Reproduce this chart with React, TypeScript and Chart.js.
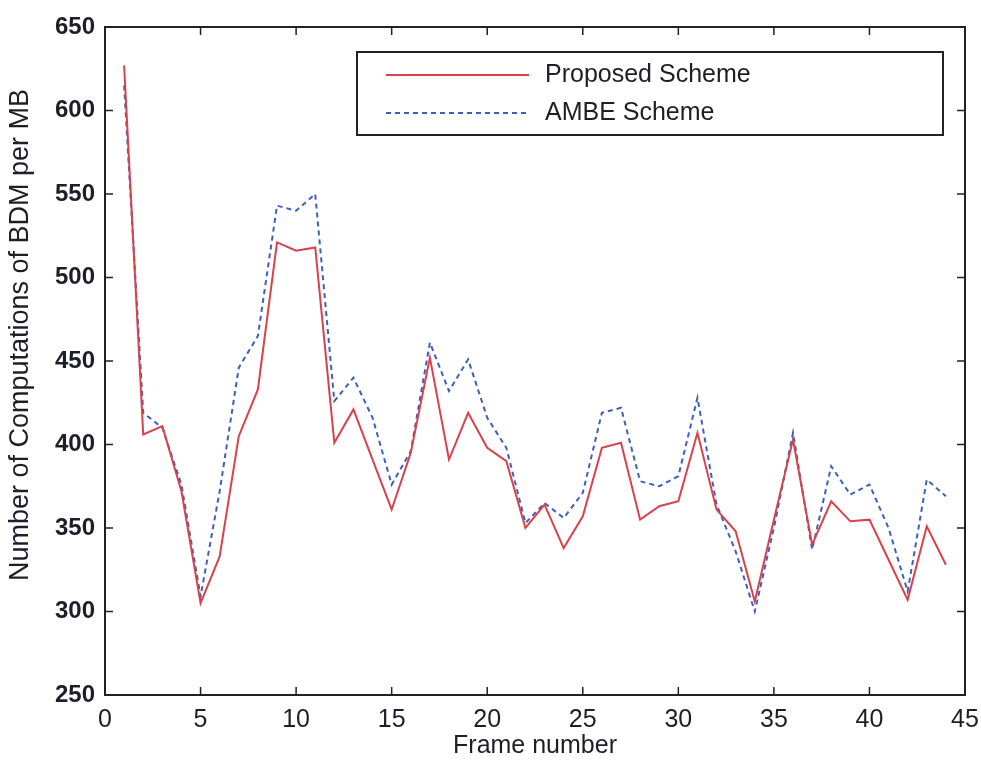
import React, { useEffect, useRef } from "react";
import { Chart, registerables } from "chart.js";

Chart.register(...registerables);

const frames = [1,2,3,4,5,6,7,8,9,10,11,12,13,14,15,16,17,18,19,20,21,22,23,24,25,26,27,28,29,30,31,32,33,34,35,36,37,38,39,40,41,42,43,44];
const proposed = [627,406,411,372,305,333,405,433,521,516,518,401,421,391,361,395,452,391,419,398,390,350,364,338,357,398,401,355,363,366,407,361,348,306,355,403,340,366,354,355,331,307,351,328];
const ambe = [615,419,410,376,309,372,446,465,543,540,550,426,440,416,376,396,461,432,451,416,398,353,365,356,371,419,422,378,375,381,428,364,336,300,350,407,337,387,370,376,350,312,379,369];
const xTicks = [0,5,10,15,20,25,30,35,40,45];
const yTicks = [250,300,350,400,450,500,550,600,650];
const legendLabels = ["Proposed Scheme", "AMBE Scheme"];
const xTitle = "Frame number";
const yTitle = "Number of Computations of BDM per MB";

const RED = "#d8424a";
const BLUE = "#3d5fc0";
const FONT = "'Liberation Sans', Arial, sans-serif";
const INK = "#1e1e28";

const framePlugin = {
  id: "matlabFrame",
  afterDraw(chart: any) {
    const { ctx, chartArea: a, scales } = chart;
    ctx.save();
    ctx.strokeStyle = "#222";
    ctx.lineWidth = 2;
    ctx.strokeRect(a.left, a.top, a.right - a.left, a.bottom - a.top);
    ctx.lineWidth = 1.5;
    const tl = 8;
    for (const v of xTicks) {
      const x = scales.x.getPixelForValue(v);
      ctx.beginPath();
      ctx.moveTo(x, a.bottom); ctx.lineTo(x, a.bottom - tl);
      ctx.moveTo(x, a.top); ctx.lineTo(x, a.top + tl);
      ctx.stroke();
    }
    for (const v of yTicks) {
      const y = scales.y.getPixelForValue(v);
      ctx.beginPath();
      ctx.moveTo(a.left, y); ctx.lineTo(a.left + tl, y);
      ctx.moveTo(a.right, y); ctx.lineTo(a.right - tl, y);
      ctx.stroke();
    }
    ctx.fillStyle = INK;
    ctx.textAlign = "center";
    ctx.textBaseline = "middle";
    // x title
    ctx.font = `25px ${FONT}`;
    ctx.fillText(xTitle, (a.left + a.right) / 2, 746);
    // y title
    ctx.save();
    ctx.translate(21, 335);
    ctx.rotate(-Math.PI / 2);
    ctx.font = `27px ${FONT}`;
    ctx.fillText(yTitle, 0, 0);
    ctx.restore();
    // legend box
    const bx = 357, by = 52, bw = 586, bh = 83;
    ctx.fillStyle = "#fff";
    ctx.fillRect(bx, by, bw, bh);
    ctx.lineWidth = 2;
    ctx.strokeStyle = "#222";
    ctx.strokeRect(bx, by, bw, bh);
    ctx.font = `25px ${FONT}`;
    ctx.textBaseline = "middle";
    ctx.textAlign = "left";
    const rows = [
      { y: 75, color: RED, dash: [] as number[] },
      { y: 113, color: BLUE, dash: [5, 4] },
    ];
    rows.forEach((r, i) => {
      ctx.beginPath();
      ctx.setLineDash(r.dash);
      ctx.strokeStyle = r.color;
      ctx.lineWidth = 2;
      ctx.moveTo(386, r.y); ctx.lineTo(529, r.y);
      ctx.stroke();
      ctx.setLineDash([]);
      ctx.fillStyle = INK;
      ctx.fillText(legendLabels[i], 545, r.y);
    });
    ctx.restore();
  },
};

export default function App() {
  const ref = useRef<HTMLCanvasElement>(null);
  useEffect(() => {
    document.body.style.margin = "0";
    const chart = new Chart(ref.current!, {
      type: "line",
      data: {
        datasets: [
          {
            label: legendLabels[0],
            data: frames.map((f, i) => ({ x: f, y: proposed[i] })),
            borderColor: RED,
            borderWidth: 2,
            pointRadius: 0,
            tension: 0,
            fill: false,
          },
          {
            label: legendLabels[1],
            data: frames.map((f, i) => ({ x: f, y: ambe[i] })),
            borderColor: BLUE,
            borderWidth: 2,
            borderDash: [5, 4],
            pointRadius: 0,
            tension: 0,
            fill: false,
          },
        ],
      },
      options: {
        animation: false,
        responsive: false,
        maintainAspectRatio: false,
        layout: { padding: { top: 27, right: 16, left: 0, bottom: 0 } },
        plugins: { legend: { display: false }, tooltip: { enabled: false } },
        scales: {
          x: {
            type: "linear",
            min: 0,
            max: 45,
            afterBuildTicks: (s: any) => { s.ticks = xTicks.map((v) => ({ value: v })); },
            afterFit: (s: any) => { s.height = 66; s.paddingLeft = 0; s.paddingRight = 0; },
            grid: { display: false, drawTicks: false },
            border: { display: false },
            ticks: { color: INK, font: { family: FONT, size: 25 }, padding: 10, maxRotation: 0 },
          },
          y: {
            type: "linear",
            min: 250,
            max: 650,
            afterBuildTicks: (s: any) => { s.ticks = yTicks.map((v) => ({ value: v })); },
            afterFit: (s: any) => { s.width = 105; s.paddingTop = 0; s.paddingBottom = 0; },
            grid: { display: false, drawTicks: false },
            border: { display: false },
            ticks: { color: INK, font: { family: FONT, size: 24, weight: "bold" }, padding: 10 },
          },
        },
      },
      plugins: [framePlugin],
    } as any);
    return () => chart.destroy();
  }, []);
  return (
    <div style={{ position: "absolute", left: 0, top: 0, width: 981, height: 761, background: "#fff" }}>
      <canvas ref={ref} width={981} height={761} style={{ width: 981, height: 761 }} />
    </div>
  );
}
